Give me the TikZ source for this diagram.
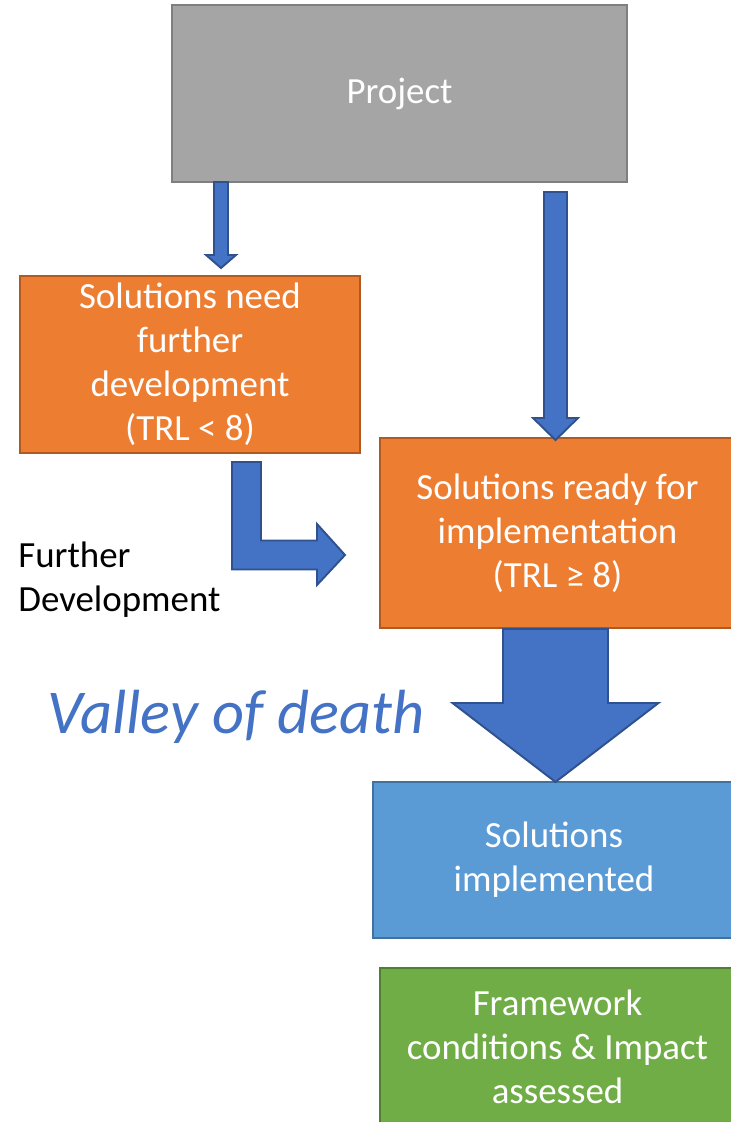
\documentclass[tikz,border=0pt]{standalone}
\usepackage{fontspec}
\setmainfont{Carlito}
\usetikzlibrary{calc,positioning}
\definecolor{boxgray}{HTML}{A5A5A5}
\definecolor{linegray}{HTML}{7F7F7F}
\definecolor{boxorange}{HTML}{ED7D31}
\definecolor{lineorange}{HTML}{AE5A21}
\definecolor{boxblue}{HTML}{5B9BD5}
\definecolor{lineblue}{HTML}{41719C}
\definecolor{boxgreen}{HTML}{70AD47}
\definecolor{linegreen}{HTML}{507E32}
\definecolor{arrowblue}{HTML}{4472C4}
\definecolor{arrowline}{HTML}{2F528F}
\tikzset{
  stagebox/.style={draw, line width=1.1pt, align=center, text=white, inner sep=0pt,
    font=\fontsize{21}{25}\selectfont},
  blockarrow/.style={fill=arrowblue, draw=arrowline, line width=1.1pt, line join=miter}
}
\newcommand{\blockdown}[5]{%
  \draw[blockarrow] let \p1=(#1), \p2=(#2) in
    (\x1-#3,\y1) -- (\x1+#3,\y1) -- (\x1+#3,\y2+#5) -- (\x1+#4,\y2+#5) -- (\x2,\y2)
    -- (\x1-#4,\y2+#5) -- (\x1-#3,\y2+#5) -- cycle;}
\begin{document}
\begin{tikzpicture}[x=0.02cm,y=-0.02cm]
		\useasboundingbox (0,0) rectangle (730,1122);
		\node [stagebox, fill=boxgray, draw=linegray, minimum width=9.1cm, minimum height=3.54cm](project) at (399.5,93.5) {Project};
		\node [stagebox, fill=boxorange, draw=lineorange, minimum width=6.8cm, minimum height=3.54cm](further) at (190,364.5) {Solutions need\\further\\development\\(TRL < 8)};
		\node [stagebox, fill=boxorange, draw=lineorange, minimum width=7.1cm, minimum height=3.8cm](ready) at (557.5,533) {Solutions ready for\\implementation\\(TRL ≥ 8)};
		\node [stagebox, fill=boxblue, draw=lineblue, minimum width=7.24cm, minimum height=3.12cm](implemented) at (554,860) {Solutions\\implemented};
		\node [stagebox, fill=boxgreen, draw=linegreen, minimum width=7.1cm, minimum height=3.14cm](assessed) at (557.5,1046.5) {Framework\\conditions \& Impact\\assessed};
		\node [anchor=west, align=left, inner sep=0pt, font=\fontsize{21}{25}\selectfont](devlabel) at (18,580) {Further\\Development};
		\node [text=arrowblue, font=\fontsize{35.5}{40}\selectfont\itshape](valley) at (236,717) {Valley of death};
		\coordinate (a1top) at (221,182);
		\coordinate (a1tip) at (221,268);
		\coordinate (a2top) at (555.5,192);
		\coordinate (a2tip) at (555.5,440);
		\coordinate (a3tip) at (555.5,782);
		\blockdown{a1top}{a1tip}{0.14cm}{0.3cm}{0.26cm}
		\blockdown{a2top}{a2tip}{0.23cm}{0.45cm}{0.44cm}
		\blockdown{ready.south -| a3tip}{a3tip}{1.05cm}{2.06cm}{1.58cm}
		\coordinate (bendtop) at (246.5,462);
		\coordinate (bendtip) at (345,555);
		\draw [blockarrow] ($(bendtop)+(-14.5,0)$) -- ($(bendtop)+(14.5,0)$) -- ($(bendtip)+(-84,-14.5)$) -- ($(bendtip)+(-28,-14.5)$) -- ($(bendtip)+(-28,-31)$) -- (bendtip) -- ($(bendtip)+(-28,30)$) -- ($(bendtip)+(-28,14.5)$) -- ($(bendtip)+(-113,14.5)$) -- cycle;
\end{tikzpicture}
\end{document}
